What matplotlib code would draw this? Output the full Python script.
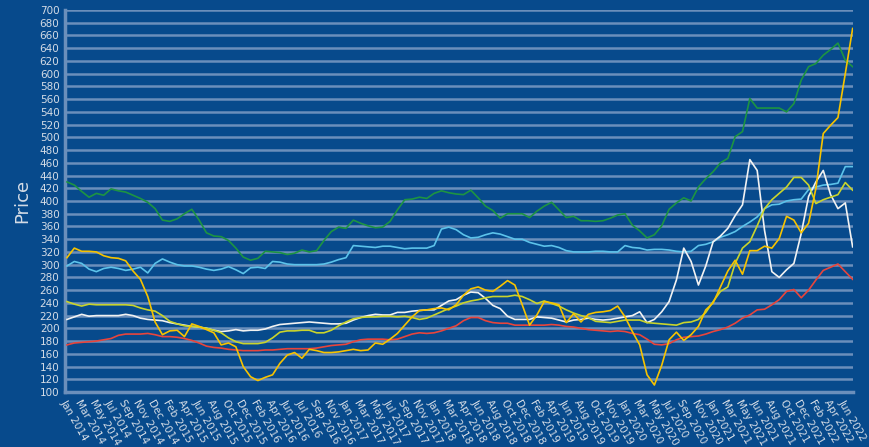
import matplotlib
matplotlib.use("Agg")
import matplotlib.pyplot as plt
import numpy as np

BG = "#074a8c"
GRID = "#6b8fbb"
TEXT = "#d4dce6"

tick_labels = [
    "Jan 2014", "Mar 2014", "May 2014", "Jul 2014", "Sep 2014", "Nov 2014",
    "Dec 2014", "Feb 2015", "Apr 2015", "Jun 2015", "Aug 2015", "Oct 2015",
    "Dec 2015", "Feb 2016", "Apr 2016", "Jun 2016", "Jul 2016", "Sep 2016",
    "Nov 2016", "Jan 2017", "Mar 2017", "May 2017", "Jul 2017", "Sep 2017",
    "Nov 2017", "Jan 2018", "Mar 2018", "Apr 2018", "Jun 2018", "Aug 2018",
    "Oct 2018", "Dec 2018", "Feb 2019", "Apr 2019", "Jun 2019", "Aug 2019",
    "Oct 2019", "Nov 2019", "Jan 2020", "Mar 2020", "May 2020", "Jul 2020",
    "Sep 2020", "Nov 2020", "Jan 2021", "Mar 2021", "May 2021", "Jun 2021",
    "Aug 2021", "Oct 2021", "Dec 2021", "Feb 2022", "Apr 2022", "Jun 2022",
]

green = [
    430, 425, 415, 406, 412, 409, 419, 416, 414, 409,
    404, 398, 388, 370, 368, 372, 380, 387, 370, 350,
    345, 344, 338, 326, 312, 307, 310, 321, 320, 319,
    316, 318, 323, 320, 322, 338, 352, 359, 357, 370,
    365, 361, 358, 359, 368, 386, 402, 403, 406, 404,
    412, 416, 413, 411, 410, 417, 405, 392, 385, 373,
    380, 380, 380, 374, 384, 392, 398, 386, 374, 376,
    369, 369, 368, 369, 373, 378, 380, 362, 353, 342,
    347, 361, 387, 397, 405, 400, 422, 435, 446, 460,
    467, 501, 509, 561, 546, 546, 546, 546, 540, 553,
    590, 611, 616, 629, 638, 648, 621, 611,
]

gold = [
    311, 326, 321, 321, 320, 314, 311, 310, 306, 290,
    277, 250, 210, 190, 196, 197, 187, 207, 203, 198,
    193, 174, 177, 171, 140, 124, 118, 123, 127, 145,
    158, 162, 153, 167, 165, 162, 162, 163, 165, 167,
    165, 166, 177, 175, 183, 192, 205, 218, 228, 229,
    231, 232, 229, 237, 252, 262, 265, 260, 258, 266,
    275, 268, 237, 205, 221, 242, 240, 237, 209, 223,
    210, 222, 225, 226, 228, 235, 218, 195, 174, 127,
    111, 142, 182, 194, 181, 190, 203, 229, 240, 265,
    290, 307, 285, 322, 322, 329, 326, 341, 376, 370,
    350, 365, 420, 506, 519, 531, 600, 671,
]

light_blue = [
    298, 305, 302, 293, 289, 294, 296, 294, 291, 293,
    296, 287, 302, 309, 304, 300, 298, 298, 296, 293,
    291, 293, 297, 292, 286, 295, 296, 294, 305, 304,
    301, 300, 300, 300, 300, 301, 304, 308, 311, 330,
    329, 328, 327, 329, 329, 327, 325, 326, 326, 326,
    330, 356, 359, 355, 347, 342, 343, 347, 350, 348,
    344, 340, 340, 335, 332, 329, 330, 327, 322, 320,
    320, 320, 321, 321, 320, 320, 330, 327, 326, 323,
    324, 324, 323, 321, 320, 321, 330, 332, 336, 343,
    347, 352, 360, 367, 375, 388, 394, 395, 400, 402,
    403, 418, 422, 425, 426, 428, 454, 454,
]

lime = [
    242, 238, 235, 238, 237, 237, 237, 237, 237, 236,
    232, 229, 227, 220, 211, 207, 204, 203, 202, 200,
    197, 193, 185, 179, 176, 176, 176, 178, 185, 194,
    196, 196, 197, 197, 193, 193, 197, 204, 210, 215,
    217, 218, 218, 219, 219, 218, 219, 217, 214, 216,
    221, 226, 231, 235, 240, 243, 245, 248, 250, 250,
    250, 252, 250, 245, 239, 243, 239, 235, 229, 224,
    220, 217, 211, 210, 209, 211, 213, 213, 213, 209,
    208, 207, 206, 205, 209, 210, 214, 225, 242, 258,
    265, 302, 326, 336, 361, 388, 402, 412, 422, 437,
    437, 425, 396, 402, 406, 410, 429, 417,
]

white = [
    214, 218, 222, 219, 220, 220, 220, 220, 222, 220,
    216, 214, 213, 212, 209, 207, 205, 203, 202, 200,
    197, 195, 196, 198, 196, 197, 197, 199, 203, 206,
    207, 208, 209, 210, 209, 208, 207, 207, 208, 213,
    217, 220, 222, 221, 221, 225, 225, 227, 228, 229,
    229, 236, 243, 245, 252, 257, 256, 247, 236, 231,
    219, 214, 214, 214, 218, 217, 216, 213, 210, 213,
    214, 216, 214, 213, 214, 216, 218, 220, 226, 209,
    214, 226, 242, 276, 326, 305, 268, 298, 336, 345,
    357, 377, 394, 465, 448, 354, 289, 280, 292, 302,
    349, 407, 430, 448, 410, 388, 397, 328,
]

red = [
    174, 177, 178, 179, 180, 182, 184, 189, 191, 191,
    191, 192, 190, 187, 187, 186, 184, 181, 177, 172,
    170, 169, 167, 166, 165, 165, 165, 166, 166, 167,
    168, 168, 168, 168, 169, 171, 173, 174, 175, 179,
    182, 183, 183, 183, 182, 183, 187, 191, 193, 192,
    193, 196, 200, 204, 212, 217, 217, 212, 209, 208,
    208, 205, 205, 205, 205, 205, 206, 205, 203, 202,
    200, 198, 197, 196, 195, 196, 195, 192, 190, 183,
    175, 174, 176, 182, 186, 187, 188, 191, 195, 198,
    202, 208, 216, 221, 229, 230, 237, 245, 258, 261,
    248, 260, 276, 291, 296, 301, 289, 277,
]

series = [
    (green, "#1d9442"),
    (light_blue, "#5cc3ea"),
    (white, "#f2f2f2"),
    (red, "#e8453c"),
    (lime, "#c9d42c"),
    (gold, "#f7c300"),
]

fig = plt.figure(figsize=(8.69, 4.47), dpi=100, facecolor=BG)
ax = fig.add_axes([65 / 869, 55 / 447, 788 / 869, 382 / 447])
ax.set_facecolor(BG)

x = np.arange(len(green))
for values, color in series:
    ax.plot(x, values, color=color, linewidth=1.2, zorder=3)

ax.set_xlim(-0.27, len(green) - 1 + 0.05)
ax.set_ylim(100, 700)
ax.set_yticks(range(100, 701, 20))
ax.set_xticks(range(0, len(green), 2))
ax.set_xticklabels(tick_labels, rotation=-60, ha="left", va="top",
                   rotation_mode="anchor", fontsize=7)

ax.grid(axis="y", color=GRID, linewidth=1.8, zorder=1)
ax.tick_params(colors=TEXT, labelsize=7.5, length=0, pad=4)
ax.tick_params(axis="x", pad=4)
for side in ("top", "right"):
    ax.spines[side].set_visible(False)
for side in ("left", "bottom"):
    ax.spines[side].set_color(GRID)
    ax.spines[side].set_linewidth(2.5)

ax.set_ylabel("Price", color=TEXT, fontsize=13, labelpad=6)

fig.savefig("out.png", dpi=100, facecolor=BG)
